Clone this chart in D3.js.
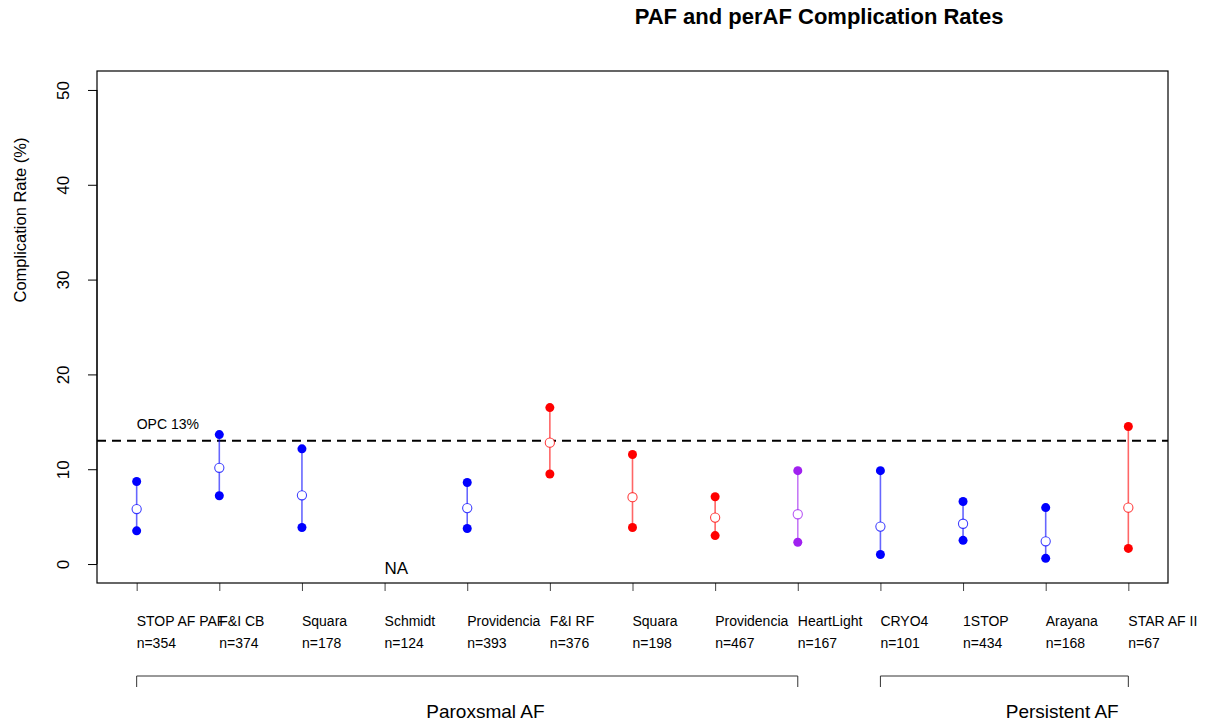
<!DOCTYPE html>
<html lang="en">
<head>
    <meta charset="UTF-8">
    <script src="https://d3js.org/d3.v7.min.js"></script>
    <title>PAF and perAF Complication Rates</title>
    <style>
        body { margin: 0; background: #fff; }
        text { font-family: "Liberation Sans", Arial, sans-serif; }
    </style>
</head>
<body>
    <svg id="grafico" width="1207" height="723"></svg>
    <script>
        // Datos
        var estudios = ["STOP AF PAF", "F&I CB", "Squara", "Schmidt", "Providencia", "F&I RF", "Squara",
            "Providencia", "HeartLight", "CRYO4", "1STOP", "Arayana", "STAR AF II"];
        var n = [354, 374, 178, 124, 393, 376, 198, 467, 167, 101, 434, 168, 67];
        var tasa = [5.8, 10.15, 7.25, null, 5.9, 12.8, 7.05, 4.9, 5.25, 3.95, 4.25, 2.4, 5.95];
        var inferior = [3.5, 7.2, 3.85, null, 3.75, 9.5, 3.85, 3.0, 2.3, 1.0, 2.5, 0.6, 1.65];
        var superior = [8.7, 13.65, 12.15, null, 8.6, 16.5, 11.55, 7.1, 9.85, 9.85, 6.6, 5.95, 14.5];
        var colores = ["blue", "blue", "blue", "blue", "blue", "red", "red", "red", "purple",
            "blue", "blue", "blue", "red"];
        var ticksY = [0, 10, 20, 30, 40, 50];
        var opc = 13;
        var grupos = [
            { nombre: "Paroxsmal AF", desde: 1, hasta: 9, etiqueta: 5.22 },
            { nombre: "Persistent AF", desde: 10, hasta: 13, etiqueta: 12.2 }
        ];

        var paleta = { blue: "#0000ff", red: "#ff0000", purple: "#a020f0" };

        var svg = d3.select("#grafico");
        var izq = 97, der = 1168, arriba = 71, abajo = 583;

        // Escalas
        var escalaX = d3.scaleLinear().domain([0.52, 13.48]).range([izq, der]);
        var escalaY = d3.scaleLinear().domain([-2, 52]).range([abajo, arriba]);

        // Título
        svg.append("text")
            .attr("x", 819).attr("y", 24)
            .attr("text-anchor", "middle")
            .attr("font-size", 22).attr("font-weight", "bold")
            .text("PAF and perAF Complication Rates");

        // Eje Y
        var ejeY = d3.axisLeft(escalaY).tickValues(ticksY).tickSize(9).tickPadding(0).tickFormat(d3.format("d"));
        var gY = svg.append("g")
            .attr("transform", "translate(" + izq + ",0)")
            .call(ejeY);
        gY.select(".domain").attr("d", "M0," + escalaY(0) + "V" + escalaY(50)).attr("stroke", "#000");
        gY.selectAll(".tick line").attr("stroke", "#000");
        gY.selectAll(".tick text")
            .attr("font-size", 17).attr("fill", "#000")
            .attr("font-family", "Liberation Sans, Arial, sans-serif")
            .attr("text-anchor", "middle").attr("dy", null)
            .attr("transform", "translate(-34,0) rotate(-90)")
            .attr("x", 0).attr("y", 0)
            .attr("dominant-baseline", "central");

        svg.append("text")
            .attr("transform", "translate(26,220) rotate(-90)")
            .attr("text-anchor", "middle")
            .attr("font-size", 16.5)
            .text("Complication Rate (%)");

        // Eje X (solo marcas)
        var ejeX = d3.axisBottom(escalaX).tickValues(d3.range(1, estudios.length + 1)).tickSize(8).tickFormat("");
        var gX = svg.append("g")
            .attr("transform", "translate(0," + abajo + ")")
            .call(ejeX);
        gX.select(".domain").remove();
        gX.selectAll(".tick line").attr("stroke", "#444");

        // Caja
        svg.append("rect")
            .attr("x", izq).attr("y", arriba)
            .attr("width", der - izq).attr("height", abajo - arriba)
            .attr("fill", "none").attr("stroke", "#000").attr("stroke-width", 1.2);

        // Línea OPC
        svg.append("line")
            .attr("x1", izq).attr("x2", der)
            .attr("y1", escalaY(opc)).attr("y2", escalaY(opc))
            .attr("stroke", "#000").attr("stroke-width", 2)
            .attr("stroke-dasharray", "9,6");
        svg.append("text")
            .attr("x", escalaX(1)).attr("y", escalaY(opc) - 12)
            .attr("font-size", 14)
            .text("OPC " + opc + "%");

        var datos = estudios.map(function (e, i) {
            return { i: i + 1, estudio: e, n: n[i], tasa: tasa[i], inf: inferior[i], sup: superior[i], color: paleta[colores[i]] };
        });
        var validos = datos.filter(function (d) { return d.tasa !== null; });

        // Intervalos
        svg.selectAll(".intervalo")
            .data(validos)
            .enter().append("line")
            .attr("class", "intervalo")
            .attr("x1", function (d) { return escalaX(d.i); })
            .attr("x2", function (d) { return escalaX(d.i); })
            .attr("y1", function (d) { return escalaY(d.inf); })
            .attr("y2", function (d) { return escalaY(d.sup); })
            .attr("stroke", function (d) { return d.color; })
            .attr("stroke-opacity", 0.6)
            .attr("stroke-width", 1.6);

        // Extremos
        var extremos = [];
        validos.forEach(function (d) {
            extremos.push({ i: d.i, v: d.inf, color: d.color });
            extremos.push({ i: d.i, v: d.sup, color: d.color });
        });
        svg.selectAll(".extremo")
            .data(extremos)
            .enter().append("circle")
            .attr("class", "extremo")
            .attr("cx", function (d) { return escalaX(d.i); })
            .attr("cy", function (d) { return escalaY(d.v); })
            .attr("r", 4.5)
            .attr("fill", function (d) { return d.color; });

        // Tasa observada
        svg.selectAll(".tasa")
            .data(validos)
            .enter().append("circle")
            .attr("class", "tasa")
            .attr("cx", function (d) { return escalaX(d.i); })
            .attr("cy", function (d) { return escalaY(d.tasa); })
            .attr("r", 4.6)
            .attr("fill", "#fff")
            .attr("stroke", function (d) { return d.color; })
            .attr("stroke-opacity", 0.75)
            .attr("stroke-width", 1.1);

        // NA
        svg.selectAll(".na")
            .data(datos.filter(function (d) { return d.tasa === null; }))
            .enter().append("text")
            .attr("class", "na")
            .attr("x", function (d) { return escalaX(d.i); })
            .attr("y", escalaY(-1.05))
            .attr("font-size", 17)
            .text("NA");

        // Etiquetas de estudios
        svg.selectAll(".estudio")
            .data(datos)
            .enter().append("text")
            .attr("class", "estudio")
            .attr("x", function (d) { return escalaX(d.i); })
            .attr("y", 626)
            .attr("font-size", 14)
            .text(function (d) { return d.estudio; });
        svg.selectAll(".n")
            .data(datos)
            .enter().append("text")
            .attr("class", "n")
            .attr("x", function (d) { return escalaX(d.i); })
            .attr("y", 648)
            .attr("font-size", 14)
            .text(function (d) { return "n=" + d.n; });

        // Grupos
        grupos.forEach(function (g) {
            var x1 = escalaX(g.desde), x2 = escalaX(g.hasta);
            svg.append("path")
                .attr("d", "M" + x1 + ",687V676H" + x2 + "V687")
                .attr("fill", "none").attr("stroke", "#333").attr("stroke-width", 1);
            svg.append("text")
                .attr("x", escalaX(g.etiqueta)).attr("y", 718)
                .attr("text-anchor", "middle")
                .attr("font-size", 19)
                .text(g.nombre);
        });
    </script>
</body>
</html>
